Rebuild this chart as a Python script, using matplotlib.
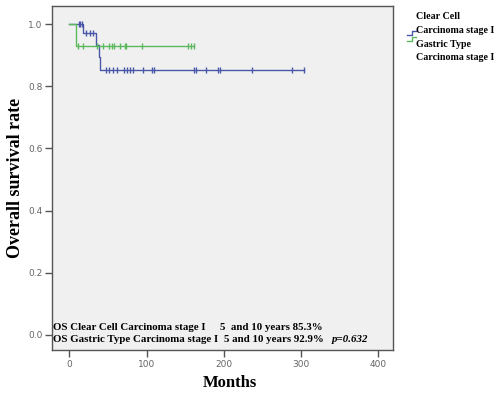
import matplotlib
matplotlib.use("Agg")
import matplotlib.pyplot as plt
from matplotlib.lines import Line2D
import numpy as np

# ---- data ----
blue_event_t = [0, 18, 34, 38, 40]
blue_event_s = [1.0, 0.971, 0.934, 0.894, 0.853]
blue_end_t = 304
blue_cens_t = [12, 14, 16, 22, 27, 31, 47, 52, 57, 62, 71, 75, 79, 83, 96,
               107, 109, 162, 164, 177, 193, 195, 237, 288, 304]

green_event_t = [0, 9]
green_event_s = [1.0, 0.929]
green_end_t = 162
green_cens_t = [11, 18, 36, 43, 52, 55, 58, 66, 72, 74, 94, 153, 157, 161]

xticks = [0, 100, 200, 300, 400]
yticks = [0.0, 0.2, 0.4, 0.6, 0.8, 1.0]

blue = "#4a57a8"
green = "#5cb85c"
serif = "Liberation Serif"

def surv_at(t, et, es):
    s = es[0]
    for a, b in zip(et, es):
        if t >= a:
            s = b
    return s

fig = plt.figure(figsize=(5.0, 3.99), dpi=100)
ax = fig.add_axes([0.104, 0.123, 0.682, 0.862])
ax.set_facecolor("#f0f0f0")

for et, es, end, cens, col in [
    (blue_event_t, blue_event_s, blue_end_t, blue_cens_t, blue),
    (green_event_t, green_event_s, green_end_t, green_cens_t, green),
]:
    xs = list(et) + [end]
    ys = list(es) + [es[-1]]
    ax.step(xs, ys, where="post", color=col, lw=1.0)
    cy = [surv_at(t, et, es) for t in cens]
    ax.plot(cens, cy, ls="none", marker="|", ms=5, mew=1.0, color=col)

ax.set_xlim(-22.4, 419)
ax.set_ylim(-0.048, 1.058)
ax.set_xticks(xticks)
ax.set_yticks(yticks)
ax.set_xticklabels([str(v) for v in xticks])
ax.set_yticklabels([f"{v:.1f}" for v in yticks])
ax.tick_params(axis="both", direction="out", length=5, width=1, color="#555555",
               labelsize=6.5, labelcolor="#666666", pad=2)
for sp in ax.spines.values():
    sp.set_color("#555555")
    sp.set_linewidth(1.0)

ax.set_xlabel("Months", family=serif, fontweight="bold", fontsize=12)
ax.xaxis.label.set_va("center")
ax.xaxis.set_label_coords(0.522, -0.096)
ax.set_ylabel("Overall survival rate", family=serif, fontweight="bold", fontsize=13)
ax.yaxis.label.set_va("center")
ax.yaxis.set_label_coords(-0.108, 0.5)

# annotation text inside axes, chained left to right
fig.canvas.draw()
renderer = fig.canvas.get_renderer()
FS = 7.8

def chain(py, parts):
    px = 53
    for gap, s, kw in parts:
        px += gap
        t = fig.text(px / 500, 1 - py / 399, s, family=serif, fontweight="bold",
                     fontsize=FS, va="baseline", ha="left", **kw)
        bb = t.get_window_extent(renderer)
        px = bb.x1

chain(330, [(0, "OS Clear Cell Carcinoma stage I", {}),
            (15, "5  and 10 years 85.3%", {})])
chain(342, [(0, "OS Gastric Type Carcinoma stage I", {}),
            (6, "5 and 10 years 92.9%", {}),
            (8, "p=0.632", {"style": "italic"})])

# legend
def fl(xs, ys, col):
    fig.add_artist(Line2D([x / 500 for x in xs], [1 - y / 399 for y in ys],
                          color=col, lw=1.0))

fl([407, 412, 412, 416], [35, 35, 31, 31], blue)
fl([407, 412, 412, 416], [41, 41, 37, 37], green)
for py, s in [(19, "Clear Cell"), (33, "Carcinoma stage I"),
              (47, "Gastric Type"), (60, "Carcinoma stage I")]:
    fig.text(416 / 500, 1 - py / 399, s, family=serif, fontweight="bold",
             fontsize=7.2, va="baseline", ha="left")

fig.savefig("out.png", dpi=100, facecolor="white")
